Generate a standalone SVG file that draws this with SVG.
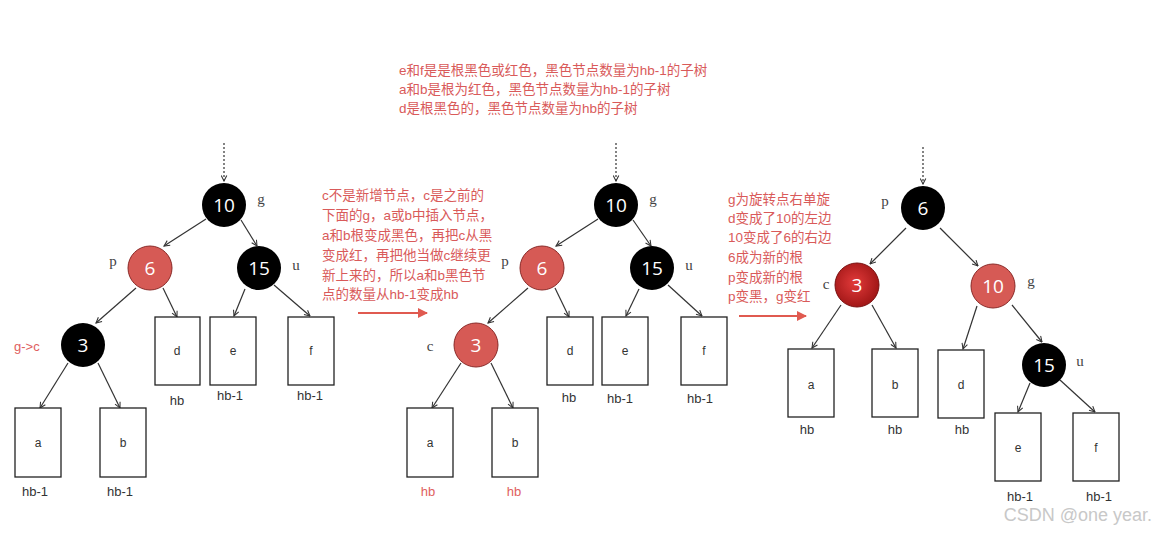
<svg xmlns="http://www.w3.org/2000/svg" width="1156" height="533" viewBox="0 0 1156 533">
<defs>
<style>
.nb{fill:#000}
.nr{fill:#d65a55;stroke:#8a2a28;stroke-width:1}
.nt{font-family:"Open Sans","Liberation Sans",sans-serif;font-size:19px;fill:#fff;text-anchor:middle;dominant-baseline:central}
.lb{font-family:"Liberation Serif",serif;font-size:15px;fill:#444;text-anchor:middle}
.box{fill:#fff;stroke:#222;stroke-width:1.3}
.bt{font-family:"Liberation Sans",sans-serif;font-size:12px;fill:#333;text-anchor:middle}
.ht{font-family:"Liberation Sans",sans-serif;font-size:13px;fill:#333;text-anchor:middle}
.hr{font-family:"Liberation Sans",sans-serif;font-size:13px;fill:#e06060;text-anchor:middle}
.rt{font-family:"Liberation Sans","Noto Sans CJK SC",sans-serif;font-size:13.5px;fill:#d95a5a}
.e{stroke:#333;stroke-width:1.2;fill:none;marker-end:url(#ah)}
.dot{stroke:#333;stroke-width:1.2;stroke-dasharray:2 2;fill:none;marker-end:url(#ah)}
.ra{stroke:#e05a50;stroke-width:2;fill:none;marker-end:url(#rh)}
</style>
<marker id="ah" viewBox="0 0 10 10" refX="9" refY="5" markerWidth="7" markerHeight="7" orient="auto" markerUnits="userSpaceOnUse">
<path d="M1,1 L9,5 L1,9" fill="none" stroke="#333" stroke-width="1.5"/>
</marker>
<marker id="rh" viewBox="0 0 10 10" refX="9" refY="5" markerWidth="10" markerHeight="10" orient="auto" markerUnits="userSpaceOnUse">
<path d="M0,0 L10,5 L0,10 Z" fill="#e05a50"/>
</marker>
<radialGradient id="dr" cx="0.45" cy="0.45" r="0.6">
<stop offset="0" stop-color="#e23a3a"/>
<stop offset="1" stop-color="#9c1414"/>
</radialGradient>
</defs>
<rect width="1156" height="533" fill="#fff"/>

<g id="connectors">
<!-- left tree -->
<path class="dot" d="M224,143 L224,181"/>
<path class="e" d="M206,219 L164,246"/>
<path class="e" d="M241,220 L257,246"/>
<path class="e" d="M136,288 L96,323"/>
<path class="e" d="M163,288 L177,317"/>
<path class="e" d="M245,289 L234,316"/>
<path class="e" d="M274,285 L310,316"/>
<path class="e" d="M68,363 L40,408"/>
<path class="e" d="M98,363 L120,408"/>
<!-- middle tree -->
<path class="dot" d="M616,143 L616,181"/>
<path class="e" d="M598,219 L556,246"/>
<path class="e" d="M633,220 L651,246"/>
<path class="e" d="M528,288 L488,323"/>
<path class="e" d="M555,288 L569,317"/>
<path class="e" d="M639,289 L626,316"/>
<path class="e" d="M668,285 L702,316"/>
<path class="e" d="M461,363 L432,408"/>
<path class="e" d="M491,363 L513,408"/>
<!-- right tree -->
<path class="dot" d="M923,147 L923,184"/>
<path class="e" d="M906,228 L870,264"/>
<path class="e" d="M940,228 L978,266"/>
<path class="e" d="M841,305 L812,348"/>
<path class="e" d="M872,305 L896,348"/>
<path class="e" d="M977,306 L963,349"/>
<path class="e" d="M1012,305 L1042,342"/>
<path class="e" d="M1030,383 L1018,412"/>
<path class="e" d="M1060,380 L1095,412"/>
<!-- red transition arrows -->
<path class="ra" d="M358,313 L427,313"/>
<path class="ra" d="M739,316 L806,316"/>
</g>

<g id="texts">
<text class="rt" x="399" y="75">e和f是是根黑色或红色，黑色节点数量为hb-1的子树</text>
<text class="rt" x="399" y="94">a和b是根为红色，黑色节点数量为hb-1的子树</text>
<text class="rt" x="399" y="113">d是根黑色的，黑色节点数量为hb的子树</text>

<text class="rt" x="322" y="200">c不是新增节点，c是之前的</text>
<text class="rt" x="322" y="220">下面的g，a或b中插入节点，</text>
<text class="rt" x="322" y="240">a和b根变成黑色，再把c从黑</text>
<text class="rt" x="322" y="260">变成红，再把他当做c继续更</text>
<text class="rt" x="322" y="280">新上来的，所以a和b黑色节</text>
<text class="rt" x="322" y="299">点的数量从hb-1变成hb</text>

<text class="rt" x="728" y="204">g为旋转点右单旋</text>
<text class="rt" x="728" y="223">d变成了10的左边</text>
<text class="rt" x="728" y="242">10变成了6的右边</text>
<text class="rt" x="728" y="262">6成为新的根</text>
<text class="rt" x="728" y="282">p变成新的根</text>
<text class="rt" x="728" y="301">p变黑，g变红</text>

<text x="1152" y="521" font-family="Liberation Sans,sans-serif" font-size="18" fill="#c8c8c8" text-anchor="end">CSDN @one year.</text>
</g>

<!-- LEFT TREE -->
<g id="L10"><circle class="nb" cx="224" cy="205" r="22"/><text class="nt" x="224" y="205">10</text><text class="lb" x="261" y="204">g</text></g>
<g id="L6"><circle class="nr" cx="150" cy="268" r="22"/><text class="nt" x="150" y="268">6</text><text class="lb" x="113" y="266">p</text></g>
<g id="L15"><circle class="nb" cx="259" cy="268" r="22"/><text class="nt" x="259" y="268">15</text><text class="lb" x="296" y="270">u</text></g>
<g id="L3"><circle class="nb" cx="83" cy="345" r="22"/><text class="nt" x="83" y="345">3</text><text x="14" y="351" font-family="Liberation Sans,sans-serif" font-size="13" fill="#e06060">g-&gt;c</text></g>
<g id="Ld"><rect class="box" x="155" y="317" width="45" height="68"/><text class="bt" x="177" y="355">d</text><text class="ht" x="177" y="405">hb</text></g>
<g id="Le"><rect class="box" x="210" y="317" width="46" height="68"/><text class="bt" x="233" y="355">e</text><text class="ht" x="230" y="400">hb-1</text></g>
<g id="Lf"><rect class="box" x="288" y="317" width="46" height="68"/><text class="bt" x="311" y="355">f</text><text class="ht" x="310" y="400">hb-1</text></g>
<g id="La"><rect class="box" x="15" y="408" width="46" height="69"/><text class="bt" x="38" y="447">a</text><text class="ht" x="35" y="496">hb-1</text></g>
<g id="Lb"><rect class="box" x="100" y="408" width="46" height="69"/><text class="bt" x="123" y="447">b</text><text class="ht" x="120" y="496">hb-1</text></g>

<!-- MIDDLE TREE -->
<g id="M10"><circle class="nb" cx="616" cy="205" r="22"/><text class="nt" x="616" y="205">10</text><text class="lb" x="653" y="204">g</text></g>
<g id="M6"><circle class="nr" cx="542" cy="268" r="22"/><text class="nt" x="542" y="268">6</text><text class="lb" x="505" y="266">p</text></g>
<g id="M15"><circle class="nb" cx="652" cy="268" r="22"/><text class="nt" x="652" y="268">15</text><text class="lb" x="689" y="270">u</text></g>
<g id="M3"><circle class="nr" cx="476" cy="345" r="22"/><text class="nt" x="476" y="345">3</text><text class="lb" x="430" y="351">c</text></g>
<g id="Md"><rect class="box" x="547" y="317" width="46" height="68"/><text class="bt" x="570" y="355">d</text><text class="ht" x="569" y="402">hb</text></g>
<g id="Me"><rect class="box" x="602" y="317" width="46" height="68"/><text class="bt" x="625" y="355">e</text><text class="ht" x="620" y="403">hb-1</text></g>
<g id="Mf"><rect class="box" x="681" y="317" width="46" height="68"/><text class="bt" x="704" y="355">f</text><text class="ht" x="700" y="403">hb-1</text></g>
<g id="Ma"><rect class="box" x="407" y="408" width="46" height="69"/><text class="bt" x="430" y="447">a</text><text class="hr" x="428" y="496">hb</text></g>
<g id="Mb"><rect class="box" x="492" y="408" width="46" height="69"/><text class="bt" x="515" y="447">b</text><text class="hr" x="514" y="496">hb</text></g>

<!-- RIGHT TREE -->
<g id="R6"><circle class="nb" cx="923" cy="208" r="22"/><text class="nt" x="923" y="208">6</text><text class="lb" x="885" y="206">p</text></g>
<g id="R3"><circle fill="url(#dr)" stroke="#7a1010" stroke-width="1" cx="857" cy="285" r="22"/><text class="nt" x="857" y="285">3</text><text class="lb" x="826" y="289">c</text></g>
<g id="R10"><circle class="nr" cx="993" cy="286" r="22"/><text class="nt" x="993" y="286">10</text><text class="lb" x="1031" y="286">g</text></g>
<g id="R15"><circle class="nb" cx="1044" cy="365" r="22"/><text class="nt" x="1044" y="365">15</text><text class="lb" x="1080" y="366">u</text></g>
<g id="Ra"><rect class="box" x="788" y="349" width="46" height="68"/><text class="bt" x="811" y="389">a</text><text class="ht" x="807" y="434">hb</text></g>
<g id="Rb"><rect class="box" x="872" y="349" width="46" height="68"/><text class="bt" x="895" y="389">b</text><text class="ht" x="895" y="434">hb</text></g>
<g id="Rd"><rect class="box" x="938" y="350" width="46" height="68"/><text class="bt" x="961" y="389">d</text><text class="ht" x="962" y="434">hb</text></g>
<g id="Re"><rect class="box" x="995" y="413" width="46" height="68"/><text class="bt" x="1018" y="452">e</text><text class="ht" x="1020" y="501">hb-1</text></g>
<g id="Rf"><rect class="box" x="1073" y="413" width="46" height="68"/><text class="bt" x="1096" y="452">f</text><text class="ht" x="1099" y="501">hb-1</text></g>
</svg>
